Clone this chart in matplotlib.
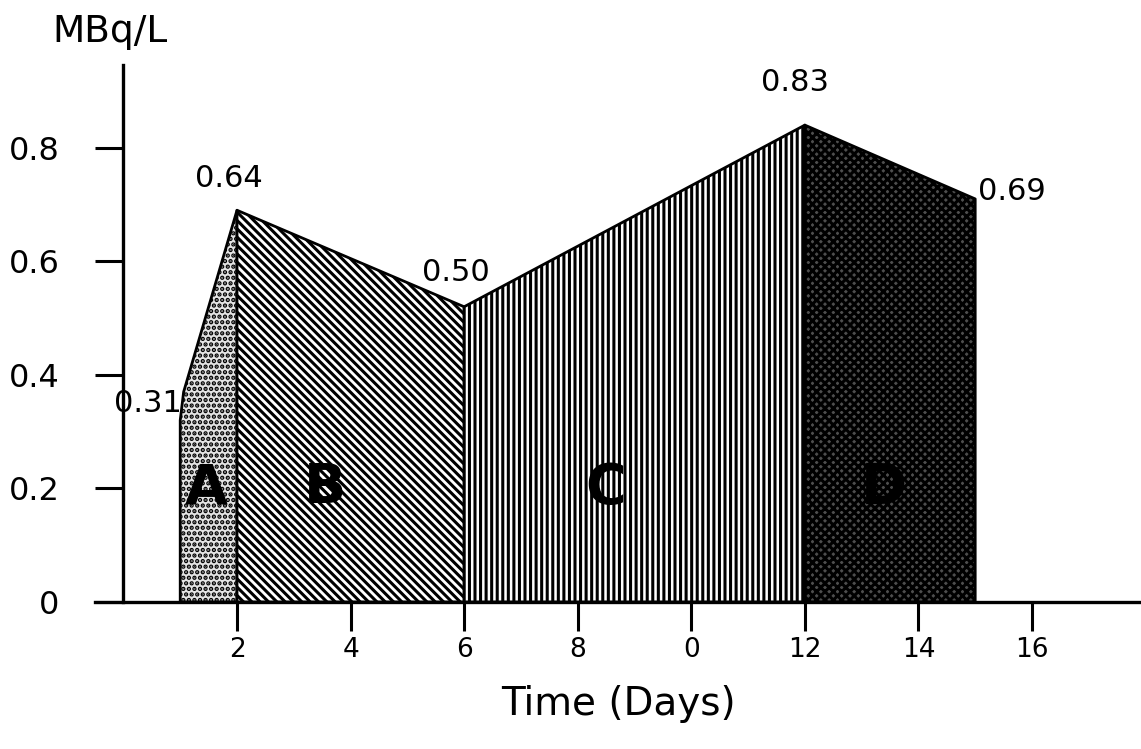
import numpy as np
import matplotlib
matplotlib.use("Agg")
import matplotlib.pyplot as plt

# outline of the activity curve (drawn heights)
days = [1.0, 1.06, 2.0, 6.0, 12.0, 15.0]
activity = [0.32, 0.37, 0.69, 0.52, 0.84, 0.71]

# phases A-D: slices of the outline
phases = ["A", "B", "C", "D"]
phase_slices = [(0, 3), (2, 4), (3, 5), (4, 6)]
phase_label_x = [1.45, 3.55, 8.5, 13.4]
phase_label_y = 0.2

# printed values next to the points
value_points = [0, 2, 3, 4, 5]
value_texts = ["0.31", "0.64", "0.50", "0.83", "0.69"]

xticks = [2, 4, 6, 8, 10, 12, 14, 16]
xtick_labels = ["2", "4", "6", "8", "0", "12", "14", "16"]
yticks = [0, 0.2, 0.4, 0.6, 0.8]
ytick_labels = ["0", "0.2", "0.4", "0.6", "0.8"]

plt.rcParams['font.family'] = ['DejaVu Sans']
plt.rcParams['hatch.linewidth'] = 2.2

fig = plt.figure(figsize=(11.41, 7.49), dpi=100)
ax = fig.add_axes([0.0833, 0.1963, 0.9167, 0.717])

# styles per phase
faces = ['#e4e4e4', 'white', 'white', '#4e4e4e']
hatches = ['...', '\\\\\\\\', '|||', 'xxxx']

for name, (i0, i1), fc, h in zip(phases, phase_slices, faces, hatches):
    xs = days[i0:i1]
    ys = activity[i0:i1]
    ax.fill_between(xs, 0, ys, facecolor=fc, hatch=h, edgecolor='black', linewidth=2)

for name, lx in zip(phases, phase_label_x):
    ax.text(lx, phase_label_y, name, fontsize=40, fontweight='bold', ha='center', va='center',
            color='black')

offsets = [(-23, 12), (-6, 23), (-6, 25), (-7, 31), (2, 5)]
for idx, txt, off in zip(value_points, value_texts, offsets):
    ha = 'left' if off[0] > 0 else 'center'
    ax.annotate(txt, (days[idx], activity[idx]), xytext=off, textcoords='offset points',
                ha=ha, va='center', fontsize=22)

ax.set_xlim(-0.5, 17.92)
ax.set_ylim(0, 0.946)
ax.spines['top'].set_visible(False)
ax.spines['right'].set_visible(False)
ax.spines['left'].set_position(('data', 0))
ax.spines['left'].set_linewidth(2.4)
ax.spines['bottom'].set_linewidth(2.4)

ax.set_xticks(xticks)
ax.set_xticklabels(xtick_labels, fontsize=19)
ax.set_yticks(yticks)
ax.set_yticklabels(ytick_labels, fontsize=23)
ax.tick_params(axis='x', direction='out', length=21, width=2.2, pad=4)
ax.tick_params(axis='y', direction='out', length=20, width=2.2, pad=26)

ax.set_xlabel("Time (Days)", fontsize=28, labelpad=16)
fig.text(0.046, 0.957, "MBq/L", fontsize=27, ha='left', va='center')

fig.savefig("out.png", dpi=100)
